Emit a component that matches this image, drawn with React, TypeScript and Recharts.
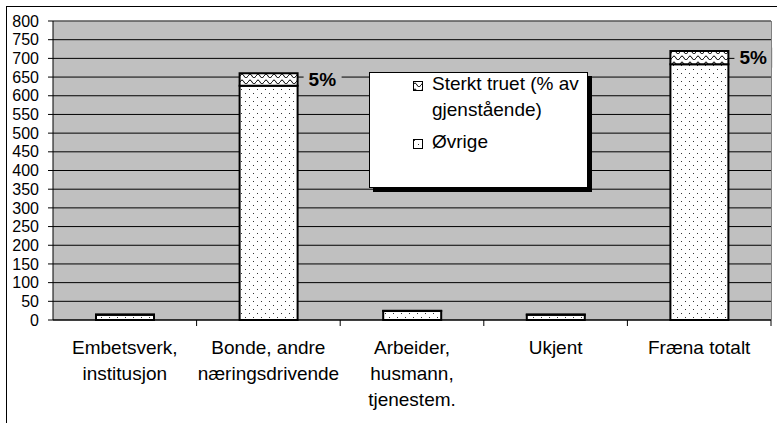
import React from 'react';
import { BarChart, Bar, XAxis, YAxis, CartesianGrid, LabelList, ReferenceLine } from 'recharts';

const FONT = '"Liberation Sans", Arial, sans-serif';

const categories = [
  'Embetsverk, institusjon',
  'Bonde, andre næringsdrivende',
  'Arbeider, husmann, tjenestem.',
  'Ukjent',
  'Fræna totalt',
];
const categoryLines = [
  ['Embetsverk,', 'institusjon'],
  ['Bonde, andre', 'næringsdrivende'],
  ['Arbeider,', 'husmann,', 'tjenestem.'],
  ['Ukjent'],
  ['Fræna totalt'],
];
const ovrige = [14, 627, 24, 14, 684];
const sterktTruet = [1, 33, 1, 1, 36];
const pctLabels = ['', '5%', '', '', '5%'];
const yTicks = [0, 50, 100, 150, 200, 250, 300, 350, 400, 450, 500, 550, 600, 650, 700, 750, 800];

const data = categories.map((cat, i) => ({
  cat,
  ovrige: ovrige[i],
  sterkt: sterktTruet[i],
  pct: pctLabels[i],
}));

const CatTick = (props: any) => {
  const { x, y, payload, width, visibleTicksCount } = props;
  const lines = categoryLines[payload.index] || [payload.value];
  const band = width / (visibleTicksCount || categories.length);
  const last = payload.index === categories.length - 1;
  return (
    <g>
      {/* Excel style ticks sit on the category boundaries */}
      {payload.index > 0 && <line x1={x - band / 2} x2={x - band / 2} y1={y} y2={y + 6} stroke="#000" />}
      {last && <line x1={x + band / 2} x2={x + band / 2} y1={y} y2={y + 6} stroke="#000" />}
      {lines.map((l: string, i: number) => (
        <text key={i} x={x} y={y + 34 + i * 26} textAnchor="middle" fontSize={19} fontFamily={FONT} fill="#000">
          {l}
        </text>
      ))}
    </g>
  );
};

const PctLabel = (props: any) => {
  const { x, y, width, height, value } = props;
  if (!value) return null;
  const cy = y + height / 2;
  return (
    <g>
      <rect x={x + width + 6} y={cy - 10} width={38} height={20} fill="#C0C0C0" />
      <text x={x + width + 11} y={cy} dy="0.35em" fontSize={19} fontWeight="bold" fontFamily={FONT} fill="#000">
        {value}
      </text>
    </g>
  );
};

const Swatch = ({ fill }: { fill: string }) => (
  <svg width={10} height={10} style={{ position: 'absolute', left: 0, top: 0 }}>
    <rect x={0.5} y={0.5} width={9} height={9} fill={fill} stroke="#000" strokeWidth={1} />
  </svg>
);

const ChartLegend = () => (
  <div
    style={{
      position: 'absolute',
      left: 369,
      top: 72,
      width: 219,
      height: 116,
      background: '#fff',
      border: '1px solid #000',
      boxShadow: '4px 4px 0 #000',
      boxSizing: 'border-box',
      fontFamily: FONT,
      fontSize: 19,
      color: '#000',
      lineHeight: '26px',
    }}
  >
    <div style={{ position: 'absolute', left: 43, top: 8 }}>
      <Swatch fill="url(#zigzag)" />
    </div>
    <div style={{ position: 'absolute', left: 62, top: -2, width: 160 }}>
      Sterkt truet (% av
      <br />
      gjenstående)
    </div>
    <div style={{ position: 'absolute', left: 43, top: 66 }}>
      <Swatch fill="url(#dots)" />
    </div>
    <div style={{ position: 'absolute', left: 62, top: 56 }}>Øvrige</div>
  </div>
);

export default function App() {
  return (
    <div style={{ position: 'absolute', left: 0, top: 0, width: 777, height: 423, overflow: 'hidden', background: '#fff' }}>
      <div style={{ position: 'absolute', left: 6, top: 6, width: 900, height: 600, border: '1px solid #000' }} />
      <div style={{ position: 'absolute', left: 0, top: 0 }}>
        <BarChart width={777} height={423} data={data} margin={{ top: 21, right: 6, bottom: 0, left: 0 }} barSize={58}>
          <defs>
            <pattern id="dots" width={8} height={8} patternUnits="userSpaceOnUse">
              <rect width={8} height={8} fill="#fff" />
              <rect x={1} y={1} width={1} height={1} fill="#333" />
              <rect x={5} y={5} width={1} height={1} fill="#333" />
            </pattern>
            <pattern id="zigzag" width={8} height={6} patternUnits="userSpaceOnUse">
              <rect width={8} height={6} fill="#fff" />
              <path d="M0 4 Q2 0 4 4 T8 4" fill="none" stroke="#000" strokeWidth={1} />
            </pattern>
          </defs>
          <CartesianGrid vertical={false} fill="#C0C0C0" fillOpacity={1} stroke="#000" />
          <ReferenceLine y={800} stroke="#808080" />
          <XAxis
            dataKey="cat"
            interval={0}
            tickLine={false}
            tickSize={0}
            tickMargin={0}
            height={103}
            stroke="#000"
            tick={<CatTick />}
          />
          <YAxis
            domain={[0, 800]}
            ticks={yTicks}
            interval={0}
            width={53}
            tickSize={5}
            tickMargin={9}
            stroke="#000"
            tick={{ fill: '#000', fontSize: 16, fontFamily: FONT }}
          />
          <Bar dataKey="ovrige" stackId="a" fill="url(#dots)" stroke="#000" strokeWidth={2} isAnimationActive={false} />
          <Bar dataKey="sterkt" stackId="a" fill="url(#zigzag)" stroke="#000" strokeWidth={2} isAnimationActive={false}>
            <LabelList dataKey="pct" content={<PctLabel />} />
          </Bar>
        </BarChart>
      </div>
      <div style={{ position: 'absolute', left: 771, top: 21, width: 1, height: 299, background: '#808080' }} />
      <ChartLegend />
    </div>
  );
}
